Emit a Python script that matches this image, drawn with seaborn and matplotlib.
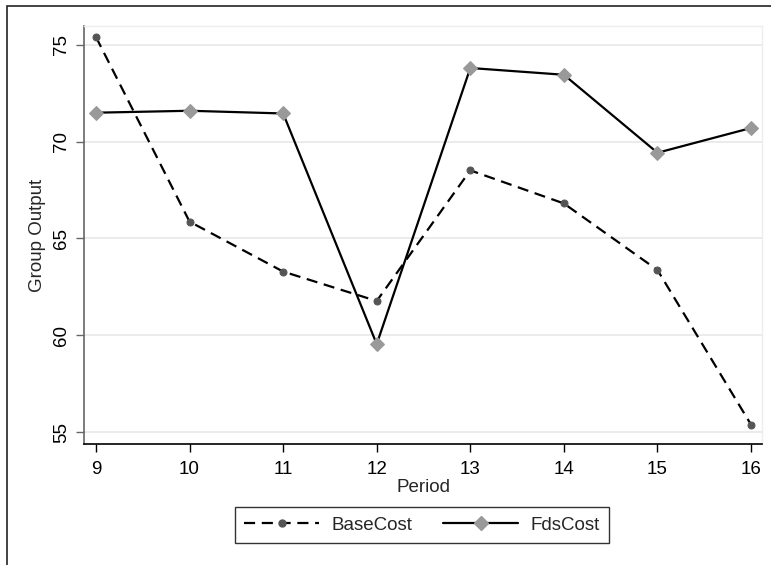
import numpy as np
import matplotlib
matplotlib.use("Agg")
import matplotlib.pyplot as plt
import matplotlib.patches as mpatches
import seaborn as sns
import pandas as pd

period = [9, 10, 11, 12, 13, 14, 15, 16]
base_cost = [75.41, 65.87, 63.29, 61.77, 68.52, 66.81, 63.37, 55.38]
fds_cost = [71.50, 71.60, 71.46, 59.54, 73.81, 73.46, 69.43, 70.71]

df = pd.DataFrame({
    "Period": period * 2,
    "Group Output": base_cost + fds_cost,
    "series": ["BaseCost"] * len(period) + ["FdsCost"] * len(period),
})

sns.set_theme(style="white")
plt.rcParams['font.family'] = ['Liberation Sans', 'DejaVu Sans']
fs = 13.5

fig = plt.figure(figsize=(7.71, 5.65), dpi=100)
ax = fig.add_axes([84 / 771, 1 - 444 / 565, (762 - 84) / 771, (444 - 26) / 565])

# outer graph region frame (only top and left visible in reference)
fig.add_artist(mpatches.Rectangle((7 / 771, -0.1), 1.2, 1 - 6 / 565 + 0.1,
                                  transform=fig.transFigure, fill=False,
                                  edgecolor="#222222", linewidth=1.2))

sns.lineplot(data=df, x="Period", y="Group Output", hue="series", style="series",
             palette={"BaseCost": "black", "FdsCost": "black"},
             dashes={"BaseCost": (5, 3), "FdsCost": ""},
             markers={"BaseCost": "o", "FdsCost": "D"},
             linewidth=1.6, ax=ax, legend=False)

# marker colours
for line, mc, ms in zip(ax.lines, ["#555555", "#999999"], [5, 7.5]):
    line.set_markerfacecolor(mc)
    line.set_markeredgecolor(mc)
    line.set_markersize(ms)

ax.set_xlim(8.872, 16.117)
ax.set_ylim(54.38, 75.98)
ax.set_xticks(period)
ax.set_yticks([55, 60, 65, 70, 75])
ax.grid(axis="y", color="#e8e8e8", linewidth=1.2)
ax.set_axisbelow(True)

for s in ["top", "right"]:
    ax.spines[s].set_color("#eeeeee")
    ax.spines[s].set_linewidth(1)
ax.spines["left"].set_color("#666666")
ax.spines["bottom"].set_color("black")
ax.spines["left"].set_linewidth(1.2)
ax.spines["bottom"].set_linewidth(1.2)

ax.tick_params(axis="both", direction="out", length=6, width=1, labelsize=fs,
               bottom=True, left=True, colors="black")
ax.tick_params(axis="x", pad=6)
ax.tick_params(axis="y", color="#666666", pad=4)
for lab in ax.get_yticklabels():
    lab.set_rotation(90)
    lab.set_va("center")

ax.set_xlabel("Period", fontsize=fs, labelpad=1)
ax.set_ylabel("Group Output", fontsize=fs, labelpad=5)

handles = [
    plt.Line2D([], [], color="black", linestyle=(0, (5, 3)), linewidth=1.6,
               marker="o", markersize=5, markerfacecolor="#555555", markeredgecolor="#555555"),
    plt.Line2D([], [], color="black", linestyle="-", linewidth=1.6,
               marker="D", markersize=7.5, markerfacecolor="#999999", markeredgecolor="#999999"),
]
leg = fig.legend(handles, ["BaseCost", "FdsCost"], loc="center",
                 bbox_to_anchor=(422 / 771, 1 - 525 / 565), ncol=2, fontsize=fs,
                 frameon=True, fancybox=False, handlelength=4.0, columnspacing=1.65,
                 handletextpad=0.65, borderpad=0.5, borderaxespad=0)
leg.get_frame().set_edgecolor("black")
leg.get_frame().set_linewidth(1)

fig.savefig("out.png", dpi=100)
